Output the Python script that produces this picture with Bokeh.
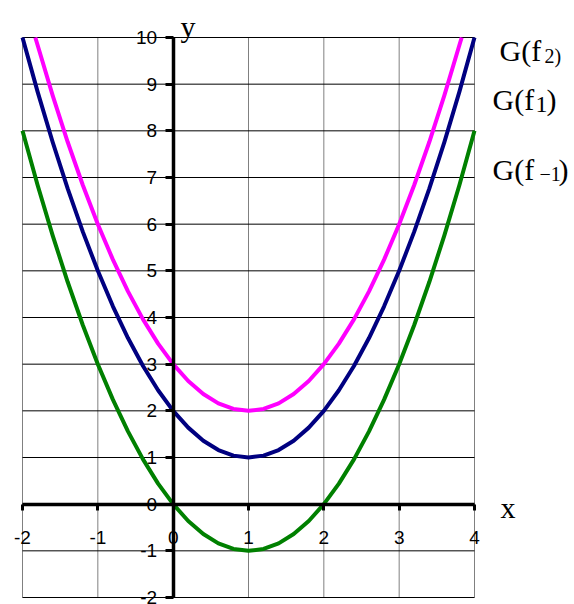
from bokeh.plotting import figure
from bokeh.models import FixedTicker, Label, Range1d
from bokeh.embed import file_html
from bokeh.resources import INLINE

# sample points of the three curves
xs = [-2.0, -1.8, -1.6, -1.4, -1.2, -1.0, -0.8, -0.6, -0.4, -0.2, 0.0,
      0.2, 0.4, 0.6, 0.8, 1.0, 1.2, 1.4, 1.6, 1.8, 2.0,
      2.2, 2.4, 2.6, 2.8, 3.0, 3.2, 3.4, 3.6, 3.8, 4.0]
g_f1 = [10.0, 8.84, 7.76, 6.76, 5.84, 5.0, 4.24, 3.56, 2.96, 2.44, 2.0,
        1.64, 1.36, 1.16, 1.04, 1.0, 1.04, 1.16, 1.36, 1.64, 2.0,
        2.44, 2.96, 3.56, 4.24, 5.0, 5.84, 6.76, 7.76, 8.84, 10.0]
g_fm1 = [8.0, 6.84, 5.76, 4.76, 3.84, 3.0, 2.24, 1.56, 0.96, 0.44, 0.0,
         -0.36, -0.64, -0.84, -0.96, -1.0, -0.96, -0.84, -0.64, -0.36, 0.0,
         0.44, 0.96, 1.56, 2.24, 3.0, 3.84, 4.76, 5.76, 6.84, 8.0]
xs_f2 = [-1.83, -1.8, -1.6, -1.4, -1.2, -1.0, -0.8, -0.6, -0.4, -0.2, 0.0,
         0.2, 0.4, 0.6, 0.8, 1.0, 1.2, 1.4, 1.6, 1.8, 2.0,
         2.2, 2.4, 2.6, 2.8, 3.0, 3.2, 3.4, 3.6, 3.8, 3.83]
g_f2 = [10.0, 9.84, 8.76, 7.76, 6.84, 6.0, 5.24, 4.56, 3.96, 3.44, 3.0,
        2.64, 2.36, 2.16, 2.04, 2.0, 2.04, 2.16, 2.36, 2.64, 3.0,
        3.44, 3.96, 4.56, 5.24, 6.0, 6.84, 7.76, 8.76, 9.84, 10.0]

x_ticks = [-2, -1, 0, 1, 2, 3, 4]
y_ticks = [-2, -1, 0, 1, 2, 3, 4, 5, 6, 7, 8, 9, 10]

X_MIN, X_MAX = -2, 4
Y_MIN, Y_MAX = -2, 10

W, H = 574, 604
# the grid box occupies 452 x 560 px, its top-left corner at (22, 37)
LEFT, TOP = 22, 37
SX = 452 / (X_MAX - X_MIN)
SY = 560 / (Y_MAX - Y_MIN)


def at(px, py):
    """Canvas pixel -> data coordinates."""
    return X_MIN + (px - LEFT) / SX, Y_MAX - (py - TOP) / SY


# the frame covers the whole canvas so nothing (labels, names) gets clipped
x0, y1 = at(0, 0)
x1, y0 = at(W, H)
p = figure(
    width=W, height=H,
    x_range=Range1d(x0, x1), y_range=Range1d(y0, y1),
    output_backend="svg", toolbar_location=None,
    min_border_left=0, min_border_right=0, min_border_top=0, min_border_bottom=0,
)
p.outline_line_color = None
p.background_fill_color = "white"
p.border_fill_color = "white"
p.xgrid.visible = False
p.ygrid.visible = False

# grid
p.segment(x0=x_ticks, y0=[Y_MIN] * len(x_ticks), x1=x_ticks, y1=[Y_MAX] * len(x_ticks),
          line_color="#808080", line_width=1)
p.segment(x0=[X_MIN] * len(y_ticks), y0=y_ticks, x1=[X_MAX] * len(y_ticks), y1=y_ticks,
          line_color="black", line_width=1)

# curves
p.line(xs_f2, g_f2, line_color="#FF00FF", line_width=4, line_join="round")
p.line(xs, g_f1, line_color="#000080", line_width=4, line_join="round")
p.line(xs, g_fm1, line_color="#008000", line_width=4, line_join="round")

# axes crossing at the origin
for ax, ticks, bounds in ((p.xaxis, x_ticks, (X_MIN, X_MAX)), (p.yaxis, y_ticks, (Y_MIN, Y_MAX))):
    ax.fixed_location = 0
    ax.ticker = FixedTicker(ticks=ticks)
    ax.bounds = bounds
    ax.axis_line_color = "black"
    ax.axis_line_width = 3.5
    ax.major_tick_line_color = "black"
    ax.major_tick_line_width = 3
    ax.major_tick_in = 0
    ax.minor_tick_line_color = None
    ax.major_label_text_font = "Liberation Sans"
    ax.major_label_text_font_size = "19px"
    ax.major_label_text_color = "black"
    ax.major_label_overrides = {t: str(t) for t in ticks}

p.xaxis.major_tick_out = 6
p.xaxis.major_label_standoff = 21
p.yaxis.major_tick_out = 8
p.yaxis.major_label_standoff = 8

SERIF = "Liberation Serif"


def put(text, px, py, size):
    x, y = at(px, py)
    p.add_layout(Label(x=x, y=y, text=text, text_font=SERIF, text_font_size=size,
                       text_color="black", text_align="left", text_baseline="alphabetic"))


# axis names
put("y", 180, 25.5, "30px")
put("x", 500, 506.5, "30px")

# curve names
put("G(f", 499, 49.5, "30px")
put("2)", 544, 55, "20px")

put("G(f", 492, 98.5, "30px")
put("1", 535, 104, "24px")
put(")", 546, 98.5, "30px")

put("G(f", 492, 168.5, "30px")
put("\u22121", 539, 173.5, "20px")
put(")", 558, 168.5, "30px")

open("out.html", "w").write(file_html(p, INLINE))
